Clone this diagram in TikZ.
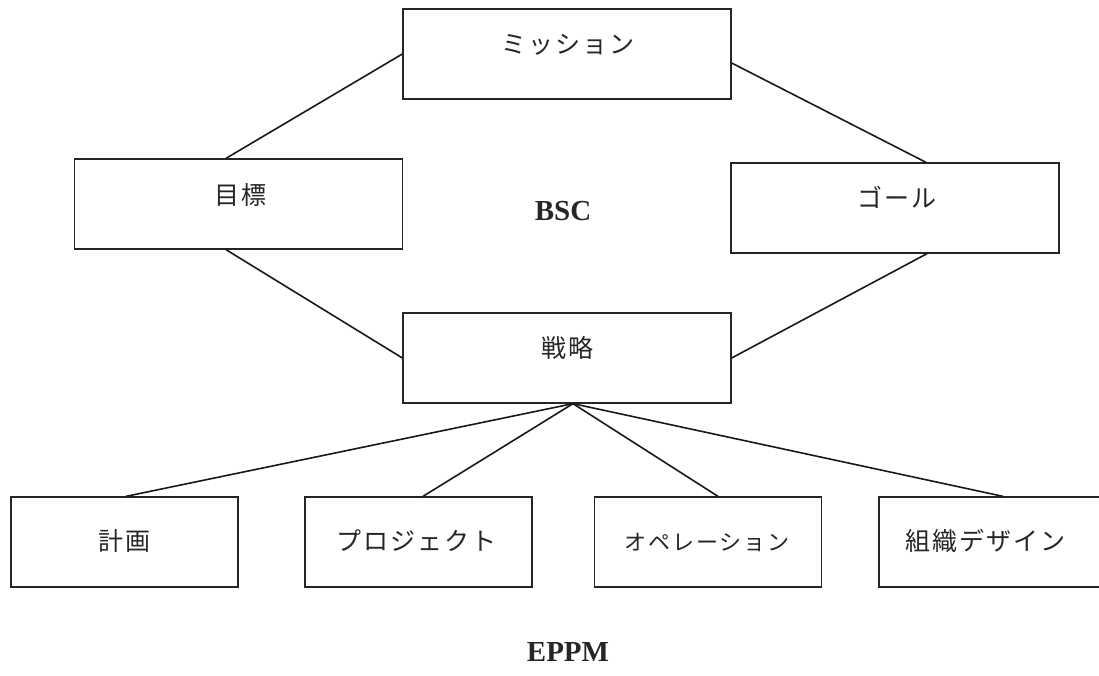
\documentclass[tikz,border=0pt]{standalone}
\usepackage{fontspec}
\setmainfont{Liberation Serif}
\newfontfamily\jp{Noto Sans CJK JP}[LetterSpace=8]
\begin{document}
\begin{tikzpicture}[x=1pt,y=-1pt,
  box/.style={draw=black!85, line width=1.3pt, minimum width=328pt, minimum height=90pt, inner sep=0pt},
  sbox/.style={draw=black!85, line width=1.3pt, minimum width=227pt, minimum height=90pt, inner sep=0pt},
  lbl/.style={inner sep=0pt, font=\jp\fontsize{25}{29}\selectfont, text=black!85},
  slbl/.style={inner sep=0pt, font=\jp\fontsize{22}{26}\selectfont, text=black!85},
  big/.style={inner sep=0pt, font=\bfseries\fontsize{29}{33}\selectfont, text=black!85},
  link/.style={draw=black!90, line width=1.6pt}]
\clip (0,0) rectangle (1099,676);
\fill[white] (0,0) rectangle (1099,676);
% upper boxes
\node[box] (mission) at (567,54) {};
\node[box] (target) at (238.5,204) {};
\node[box] (goal) at (895,208) {};
\node[box] (strategy) at (567,358) {};
\node[lbl] (missiont) at (568,45) {ミッション};
\node[lbl] (targett) at (240,195) {目標};
\node[lbl] (goalt) at (897,197) {ゴール};
\node[lbl] (strategyt) at (567,348) {戦略};
\node[big] (bsc) at (563,211) {BSC};
% lower boxes
\node[sbox] (plan) at (124.5,542) {};
\node[sbox] (project) at (418.5,542) {};
\node[sbox] (operation) at (708,542) {};
\node[sbox] (design) at (992.5,542) {};
\node[lbl] (plant) at (124.5,541) {計画};
\node[lbl] (projectt) at (416,541) {プロジェクト};
\node[slbl] (operationt) at (707,542) {オペレーション};
\node[lbl] (designt) at (985,541) {組織デザイン};
\node[big] (eppm) at (568,652) {EPPM};
% connectors
\draw[link] (mission.west) -- ([xshift=-12.5pt]target.north);
\draw[link] ([yshift=-9pt]mission.east) -- ([xshift=31pt]goal.north);
\draw[link] ([xshift=-12.5pt]target.south) -- (strategy.west);
\draw[link] ([xshift=32pt]goal.south) -- (strategy.east);
\draw[link] ([xshift=6pt]strategy.south) -- ([xshift=1.5pt]plan.north);
\draw[link] ([xshift=6pt]strategy.south) -- ([xshift=4.5pt]project.north);
\draw[link] ([xshift=6pt]strategy.south) -- ([xshift=10pt]operation.north);
\draw[link] ([xshift=6pt]strategy.south) -- ([xshift=10.5pt]design.north);
\end{tikzpicture}
\end{document}
